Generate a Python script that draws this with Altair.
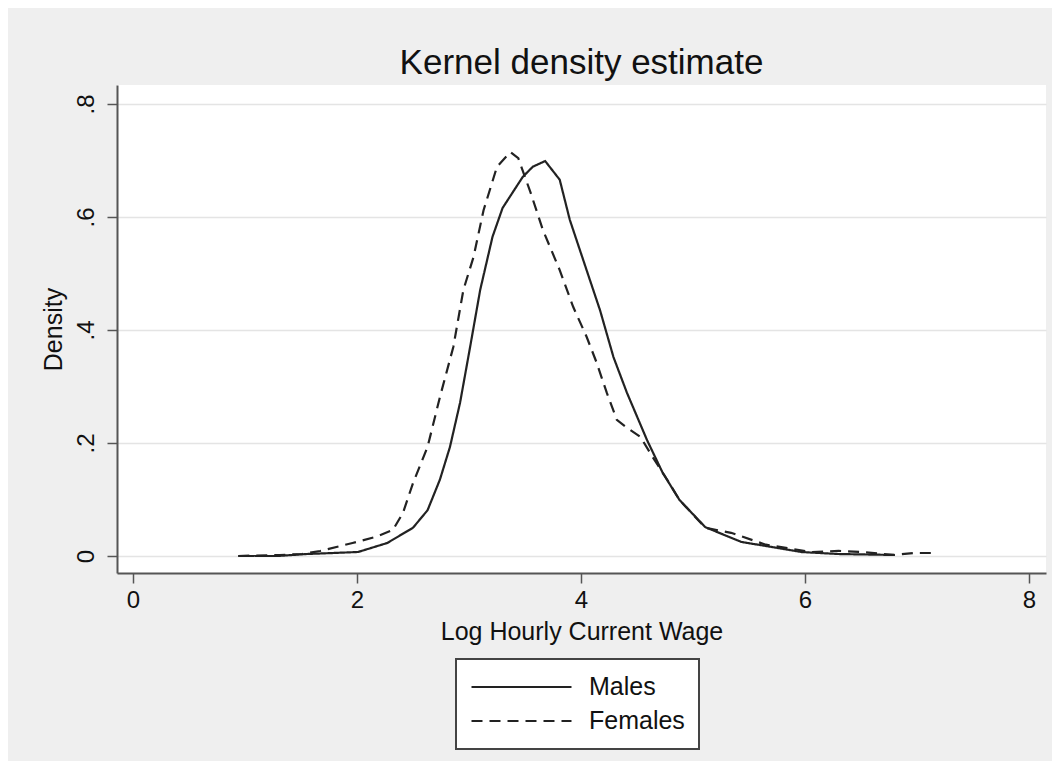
import altair as alt
import pandas as pd

# Kernel density estimates
males_x = [0.94, 1.29, 1.55, 1.79, 2.01, 2.27, 2.50, 2.63, 2.74, 2.83, 2.92, 3.01,
           3.10, 3.21, 3.30, 3.48, 3.57, 3.68, 3.81, 3.90, 4.05, 4.17, 4.29, 4.41,
           4.59, 4.73, 4.88, 5.11, 5.43, 5.70, 5.97, 6.30, 6.80]
males_y = [0.000, 0.000, 0.0035, 0.0053, 0.0071, 0.023, 0.050, 0.081, 0.135, 0.193,
           0.271, 0.370, 0.471, 0.565, 0.616, 0.671, 0.689, 0.699, 0.666, 0.595,
           0.506, 0.435, 0.352, 0.289, 0.205, 0.147, 0.099, 0.051, 0.025, 0.016,
           0.007, 0.0035, 0.0018]

females_x = [0.94, 1.31, 1.51, 1.67, 1.96, 2.17, 2.32, 2.41, 2.50, 2.63, 2.74, 2.86,
             2.95, 3.04, 3.13, 3.25, 3.37, 3.44, 3.55, 3.66, 3.81, 3.93, 4.05, 4.14,
             4.23, 4.32, 4.41, 4.53, 4.64, 4.77, 4.88, 5.11, 5.34, 5.65, 6.06, 6.30,
             6.52, 6.80, 6.97, 7.16]
females_y = [0.000, 0.0018, 0.0035, 0.0088, 0.023, 0.034, 0.046, 0.076, 0.129, 0.193,
             0.281, 0.370, 0.471, 0.529, 0.612, 0.689, 0.715, 0.704, 0.643, 0.577,
             0.506, 0.441, 0.388, 0.342, 0.289, 0.241, 0.227, 0.211, 0.175, 0.135,
             0.099, 0.050, 0.041, 0.020, 0.007, 0.009, 0.007, 0.0018, 0.0053, 0.0053]

series_names = ["Males", "Females"]
x_ticks = [0, 2, 4, 6, 8]
y_ticks = [0, 0.2, 0.4, 0.6, 0.8]

df = pd.concat([
    pd.DataFrame({"series": "Males", "x": males_x, "y": males_y, "order": range(len(males_x))}),
    pd.DataFrame({"series": "Females", "x": females_x, "y": females_y, "order": range(len(females_x))}),
])

FONT = "Liberation Sans"
INK = "#111111"

chart = alt.Chart(df).mark_line(color="#222222", strokeWidth=2.2).encode(
    x=alt.X("x:Q",
            scale=alt.Scale(domain=[-0.143, 8.152], nice=False, zero=False),
            axis=alt.Axis(title="Log Hourly Current Wage", values=x_ticks, grid=False,
                          format="d", labelPadding=5, titlePadding=7, labelFlush=False)),
    y=alt.Y("y:Q",
            scale=alt.Scale(domain=[-0.0301, 0.8336], nice=False, zero=False),
            axis=alt.Axis(title="Density", values=y_ticks, grid=True,
                          labelExpr="datum.value == 0 ? '0' : replace(format(datum.value, '.1f'), '0.', '.')",
                          labelAngle=-90, labelAlign="center", labelBaseline="bottom",
                          labelPadding=9, titlePadding=8, labelFlush=False)),
    strokeDash=alt.StrokeDash("series:N",
            scale=alt.Scale(domain=series_names, range=[[1, 0], [11, 7]]),
            legend=alt.Legend(title=None, orient="none", legendX=339, legendY=574,
                              direction="vertical", symbolType="stroke", symbolSize=10000,
                              symbolStrokeWidth=2.2, symbolStrokeColor="#222222",
                              clipHeight=28, rowPadding=6, padding=14, labelOffset=16,
                              labelFontSize=25, labelFont=FONT, labelColor=INK,
                              fillColor="white", strokeColor="#444444")),
    detail="series:N",
    order="order:Q",
).properties(
    width=929,
    height=488,
    title=alt.TitleParams("Kernel density estimate", fontSize=35, font=FONT,
                          fontWeight="normal", color=INK, anchor="middle",
                          frame="group", baseline="alphabetic", offset=-24),
    autosize=alt.AutoSizeParams(type="none"),
    padding={"left": 109, "top": 77, "right": 6, "bottom": 188},
).configure(
    background="#efefef",
).configure_view(
    fill="white", strokeWidth=0,
).configure_axis(
    domainColor="#555555", domainWidth=2, tickColor="#555555", tickWidth=1.5,
    tickSize=10, gridColor="#e4e4e4", gridWidth=1.5,
    labelFont=FONT, titleFont=FONT, labelFontSize=24, titleFontSize=25,
    labelColor=INK, titleColor=INK, titleFontWeight="normal",
).configure_legend(
    strokeWidth=2,
)

chart.save("out.html", embed_options={"renderer": "svg", "actions": False})
